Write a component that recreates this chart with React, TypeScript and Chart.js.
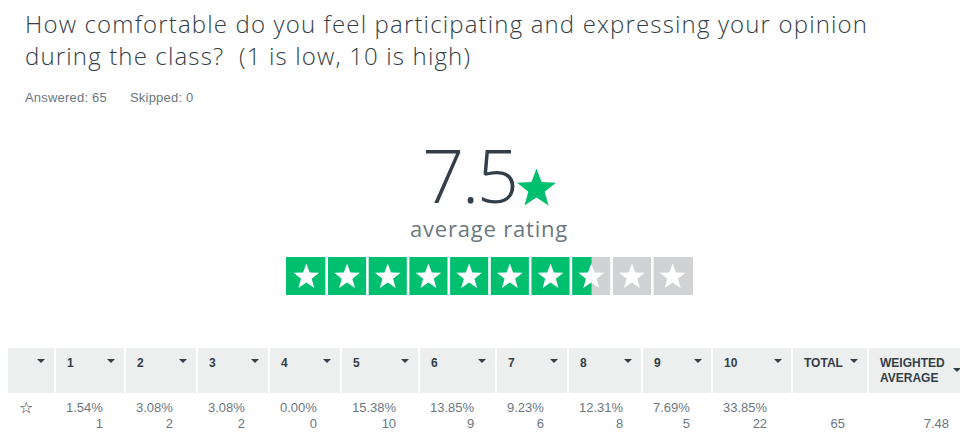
import React, { useEffect, useRef } from "react";
import { Chart, registerables } from "chart.js";

Chart.register(...registerables);

// ---------- data ----------
const TITLE_LINES = [
  "How comfortable do you feel participating and expressing your opinion",
  "during the class?  (1 is low, 10 is high)",
];
const ANSWERED = 65;
const SKIPPED = 0;
const AVERAGE_RATING = 7.5;
const MAX_RATING = 10;
const RATING_LABELS = ["1", "2", "3", "4", "5", "6", "7", "8", "9", "10"];
const PERCENTS = [1.54, 3.08, 3.08, 0.0, 15.38, 13.85, 9.23, 12.31, 7.69, 33.85];
const COUNTS = [1, 2, 2, 0, 10, 9, 6, 8, 5, 22];
const TOTAL = 65;
const WEIGHTED_AVERAGE = 7.48;

// ---------- layout / style ----------
const GREEN = "#00BF6F";
const GRAY_STAR = "#D0D2D3";
const DARK = "#333E48";
const MUTED = "#6B787F";
const HEADER_BG = "#EDEEEE";
const COL_LEFT = [8, 56, 126, 198, 270, 342, 420, 497, 569, 643, 713, 793, 869];
const COL_RIGHT = [54, 124, 196, 268, 340, 418, 495, 567, 641, 711, 791, 867, 962];
const FONT = "'Open Sans', 'Noto Sans', sans-serif";
const TABLE_FONT = "'Liberation Sans', Arial, sans-serif";

function starPath(cx: number, cy: number, R: number, r: number) {
  const pts: [number, number][] = [];
  for (let i = 0; i < 10; i++) {
    const rad = i % 2 === 0 ? R : r;
    const a = -Math.PI / 2 + (i * Math.PI) / 5;
    pts.push([cx + rad * Math.cos(a), cy + rad * Math.sin(a)]);
  }
  return pts;
}

const starPlugin = {
  id: "starOverlay",
  afterDatasetsDraw(chart: any) {
    const { ctx, chartArea, scales } = chart;
    const xs = scales.x;
    ctx.save();
    ctx.fillStyle = "#ffffff";
    for (let k = 1; k < MAX_RATING; k++) {
      const px = xs.getPixelForValue(k);
      ctx.fillRect(px - 1.3, chartArea.top, 2.6, chartArea.bottom - chartArea.top);
    }
    const cy = (chartArea.top + chartArea.bottom) / 2 + 1;
    for (let k = 0; k < MAX_RATING; k++) {
      const cx = xs.getPixelForValue(k + 0.5);
      const pts = starPath(cx, cy, 13.5, 5.6);
      ctx.beginPath();
      pts.forEach(([x, y], i) => (i === 0 ? ctx.moveTo(x, y) : ctx.lineTo(x, y)));
      ctx.closePath();
      ctx.fill();
    }
    ctx.restore();
  },
};

function StarBar() {
  const ref = useRef<HTMLCanvasElement | null>(null);
  useEffect(() => {
    if (!ref.current) return;
    const chart = new Chart(ref.current, {
      type: "bar",
      data: {
        labels: ["rating"],
        datasets: [
          {
            label: "Average",
            data: [AVERAGE_RATING],
            backgroundColor: GREEN,
            grouped: false,
            barPercentage: 1,
            categoryPercentage: 1,
            borderWidth: 0,
          } as any,
          {
            label: "Scale",
            data: [MAX_RATING],
            backgroundColor: GRAY_STAR,
            grouped: false,
            barPercentage: 1,
            categoryPercentage: 1,
            borderWidth: 0,
          } as any,
        ],
      },
      options: {
        indexAxis: "y",
        responsive: false,
        animation: false,
        layout: { padding: 0 },
        scales: {
          x: { type: "linear", min: 0, max: MAX_RATING, display: false },
          y: { display: false },
        },
        plugins: { legend: { display: false }, tooltip: { enabled: false } },
      },
      plugins: [starPlugin],
    });
    return () => chart.destroy();
  }, []);
  return (
    <canvas
      ref={ref}
      width={407}
      height={38}
      style={{ position: "absolute", left: 286, top: 257, width: 407, height: 38 }}
    />
  );
}

function Arrow({ left, top }: { left: number; top: number }) {
  return (
    <div
      style={{
        position: "absolute",
        left,
        top,
        width: 0,
        height: 0,
        borderLeft: "4px solid transparent",
        borderRight: "4px solid transparent",
        borderTop: "4.5px solid " + DARK,
      }}
    />
  );
}

function BigStar() {
  const pts = starPath(20.5, 21, 20.5, 8.6);
  return (
    <svg width={41} height={40} style={{ position: "absolute", left: 516, top: 168 }}>
      <polygon points={pts.map((p) => p.join(",")).join(" ")} fill={GREEN} />
    </svg>
  );
}

export default function App() {
  const headers = ["", ...RATING_LABELS, "TOTAL", "WEIGHTED AVERAGE"];
  const metaStyle: React.CSSProperties = {
    position: "absolute",
    top: 90,
    fontSize: 13,
    lineHeight: "16px",
    color: MUTED,
    whiteSpace: "pre",
    fontFamily: TABLE_FONT,
    letterSpacing: 0.2,
  };
  return (
    <div
      style={{
        position: "absolute",
        left: 0,
        top: 0,
        width: 960,
        height: 436,
        background: "#fff",
        overflow: "hidden",
        fontFamily: FONT,
      }}
    >
      {TITLE_LINES.map((t, i) => (
        <div
          key={i}
          style={{
            position: "absolute",
            left: 25,
            top: 8 + i * 32,
            fontSize: 24,
            lineHeight: "32px",
            fontWeight: 300,
            color: DARK,
            whiteSpace: "pre",
            letterSpacing: 1.15,
          }}
        >
          {t}
        </div>
      ))}
      <div style={{ ...metaStyle, left: 25 }}>{`Answered: ${ANSWERED}`}</div>
      <div style={{ ...metaStyle, left: 130 }}>{`Skipped: ${SKIPPED}`}</div>

      <div
        style={{
          position: "absolute",
          left: 422,
          top: 143,
          fontSize: 74,
          lineHeight: "64px",
          fontWeight: 300,
          color: DARK,
          letterSpacing: -2.5,
        }}
      >
        {AVERAGE_RATING.toFixed(1)}
      </div>
      <BigStar />
      <div
        style={{
          position: "absolute",
          left: 410,
          top: 216,
          fontSize: 22,
          lineHeight: "24px",
          fontWeight: 400,
          color: MUTED,
          letterSpacing: 0.8,
        }}
      >
        average rating
      </div>

      <StarBar />

      {headers.map((h, i) => (
        <div
          key={"h" + i}
          style={{
            position: "absolute",
            left: COL_LEFT[i],
            top: 348,
            width: COL_RIGHT[i] - COL_LEFT[i],
            height: 45,
            background: HEADER_BG,
          }}
        >
          <div
            style={{
              position: "absolute",
              left: 11,
              top: 8,
              width: i === 12 ? 72 : 60,
              fontFamily: TABLE_FONT,
              fontWeight: 700,
              fontSize: 12,
              lineHeight: "15px",
              color: DARK,
            }}
          >
            {h}
          </div>
        </div>
      ))}
      {headers.map((h, i) =>
        i === 12 ? (
          <Arrow key={"a" + i} left={953} top={368} />
        ) : (
          <Arrow key={"a" + i} left={COL_RIGHT[i] - 17} top={359} />
        )
      )}

      <div
        style={{
          position: "absolute",
          left: 19,
          top: 398,
          fontSize: 16,
          lineHeight: "20px",
          color: DARK,
          fontFamily: "'DejaVu Sans', sans-serif",
        }}
      >
        ☆
      </div>
      {PERCENTS.map((p, i) => (
        <div
          key={"d" + i}
          style={{
            position: "absolute",
            left: COL_LEFT[i + 1] + 10,
            top: 400,
            display: "inline-block",
            textAlign: "right",
            fontFamily: TABLE_FONT,
            fontSize: 13,
            lineHeight: "16px",
            color: MUTED,
          }}
        >
          <div>{p.toFixed(2)}%</div>
          <div>{COUNTS[i]}</div>
        </div>
      ))}
      <div
        style={{
          position: "absolute",
          right: 960 - 845,
          top: 416,
          fontFamily: TABLE_FONT,
          fontSize: 13,
          lineHeight: "16px",
          color: MUTED,
        }}
      >
        {TOTAL}
      </div>
      <div
        style={{
          position: "absolute",
          right: 960 - 949,
          top: 416,
          fontFamily: TABLE_FONT,
          fontSize: 13,
          lineHeight: "16px",
          color: MUTED,
        }}
      >
        {WEIGHTED_AVERAGE.toFixed(2)}
      </div>
    </div>
  );
}
